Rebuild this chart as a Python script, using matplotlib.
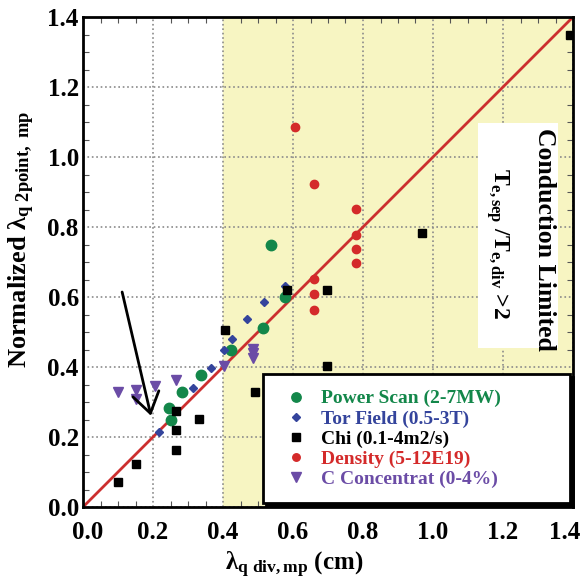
import numpy as np
import matplotlib.pyplot as plt
import matplotlib.transforms as mtransforms
from matplotlib.patches import Rectangle

plt.rcParams['font.family'] = ['Liberation Serif', 'DejaVu Serif']
plt.rcParams['font.weight'] = 'bold'
plt.rcParams['axes.labelweight'] = 'bold'
plt.rcParams['mathtext.fontset'] = 'custom'
plt.rcParams['mathtext.rm'] = 'Liberation Serif:bold'
plt.rcParams['mathtext.it'] = 'Liberation Serif:bold'
plt.rcParams['mathtext.bf'] = 'Liberation Serif:bold'

# Power scan (2-7MW)
power_x = [0.536, 0.577, 0.515, 0.422, 0.337, 0.282, 0.247, 0.250]
power_y = [0.749, 0.601, 0.512, 0.449, 0.377, 0.328, 0.282, 0.249]
# Tor field (0.5-3T)
tor_x = [0.577, 0.517, 0.468, 0.427, 0.403, 0.365, 0.315, 0.218]
tor_y = [0.632, 0.585, 0.536, 0.480, 0.449, 0.398, 0.341, 0.213]
# Chi (0.1-4m2/s)
chi_x = [1.391, 0.970, 0.584, 0.696, 0.696, 0.405, 0.490, 0.266, 0.331, 0.266, 0.266, 0.151, 0.101]
chi_y = [1.349, 0.782, 0.620, 0.620, 0.404, 0.506, 0.328, 0.275, 0.251, 0.220, 0.163, 0.122, 0.071]
# Density (5-12E19)
dens_x = [0.606, 0.660, 0.780, 0.780, 0.780, 0.780, 0.660, 0.660, 0.660]
dens_y = [1.087, 0.923, 0.851, 0.777, 0.736, 0.696, 0.651, 0.609, 0.563]
# C concentration (0-4%)
conc_x = [0.101, 0.151, 0.151, 0.206, 0.266, 0.403, 0.487, 0.487, 0.487]
conc_y = [0.328, 0.334, 0.309, 0.347, 0.363, 0.404, 0.452, 0.440, 0.425]

labels = ['Power Scan (2-7MW)', 'Tor Field (0.5-3T)', 'Chi (0.1-4m2/s)',
          'Density (5-12E19)', 'C Concentrat (0-4%)']
colors = ['#13874a', '#34449c', '#000000', '#d42a2a', '#6b4ca6']

fig = plt.figure(figsize=(5.84, 5.8), dpi=100)
ax = fig.add_axes([83/584, 73/580, 490/584, 490/580])
ax.set_xlim(0, 1.4)
ax.set_ylim(0, 1.4)

# shaded region (x > 0.4)
ax.axvspan(0.4, 1.4, color='#f7f5c2', zorder=0)
ax.grid(True, color='#8a8a8a', linestyle=':', linewidth=1.2, zorder=1)
ax.set_axisbelow(True)

ax.plot([0, 1.4], [0, 1.4], color='#cc2f2f', lw=2, zorder=2)

h1, = ax.plot(power_x, power_y, 'o', color=colors[0], ms=7.5, ls='none', zorder=3)
h2, = ax.plot(tor_x, tor_y, 'D', color=colors[1], ms=4.5, ls='none', zorder=3)
h3, = ax.plot(chi_x, chi_y, 's', color=colors[2], ms=6, ls='none', zorder=3)
h4, = ax.plot(dens_x, dens_y, 'o', color=colors[3], ms=6, ls='none', zorder=3)
h5, = ax.plot(conc_x, conc_y, 'v', color=colors[4], ms=7.5, ls='none', zorder=3)

ax.annotate('', xy=(0.196, 0.253), xytext=(0.11, 0.622),
            arrowprops=dict(arrowstyle='->,head_length=0.45,head_width=0.3',
                            lw=2, color='black', mutation_scale=32))

# white text box on the right
ax.add_patch(Rectangle((1.129, 0.454), 0.228, 0.643, facecolor='white',
                       edgecolor='none', zorder=4))
ax.text(1.32, 0.765, 'Conduction Limited', rotation=270, fontsize=18.5,
        ha='center', va='center', zorder=5)
ax.text(1.183, 0.754, r'T$_{\mathrm{e,sep}}$ /T$_{\mathrm{e,div}}$ >2',
        rotation=270, fontsize=17, ha='center', va='center', zorder=5)

leg = ax.legend([h1, h2, h3, h4, h5], labels, loc='lower left',
                bbox_to_anchor=(0.367, 0.008, 0.627, 0.27), mode='expand',
                borderaxespad=0,
                prop={'family': 'Liberation Serif', 'weight': 'bold', 'size': 14},
                fancybox=False, shadow={'color': 'black', 'alpha': 1},
                frameon=True, edgecolor='black', framealpha=1,
                handletextpad=0.4, labelspacing=0.12, borderpad=0.8,
                handlelength=1.8, markerscale=0.9)
leg.get_frame().set_linewidth(2)
leg.set_zorder(6)
for t, c in zip(leg.get_texts(), colors):
    t.set_color(c)

ax.set_xticks(np.arange(0, 1.41, 0.2))
ax.set_yticks(np.arange(0, 1.41, 0.2))
ax.set_xticks(np.arange(0, 1.41, 0.05), minor=True)
ax.set_yticks(np.arange(0, 1.41, 0.05), minor=True)
ax.tick_params(which='both', direction='in', top=True, right=True, color='#555555')
ax.tick_params(which='major', length=0, labelsize=18, pad=3)
ax.tick_params(axis='x', which='major', pad=10)
ax.tick_params(which='minor', length=4, width=0.8)
ax.xaxis.set_major_formatter(plt.FormatStrFormatter('%.1f'))
ax.yaxis.set_major_formatter(plt.FormatStrFormatter('%.1f'))
for s in ax.spines.values():
    s.set_linewidth(2)

# nudge the end x tick labels so they stay on the canvas
fig.canvas.draw()
xlabs = ax.get_xticklabels()
xlabs[-1].set_transform(xlabs[-1].get_transform() +
                        mtransforms.ScaledTranslation(-8/100, 0, fig.dpi_scale_trans))
xlabs[0].set_transform(xlabs[0].get_transform() +
                       mtransforms.ScaledTranslation(5/100, 0, fig.dpi_scale_trans))

ax.set_xlabel(r'λ$_{\mathrm{q\ div,mp}}$ (cm)', fontsize=18, fontweight='bold')
ax.xaxis.set_label_coords(0.43, -0.118)
ax.xaxis.label.set_va('center')
ax.set_ylabel(r'Normalized λ$_{\mathrm{q\ 2point,\ mp}}$', fontsize=19, fontweight='bold')
ax.yaxis.set_label_coords(-0.124, 0.545)
ax.yaxis.label.set_va('center')

fig.savefig('out.png', dpi=100)
